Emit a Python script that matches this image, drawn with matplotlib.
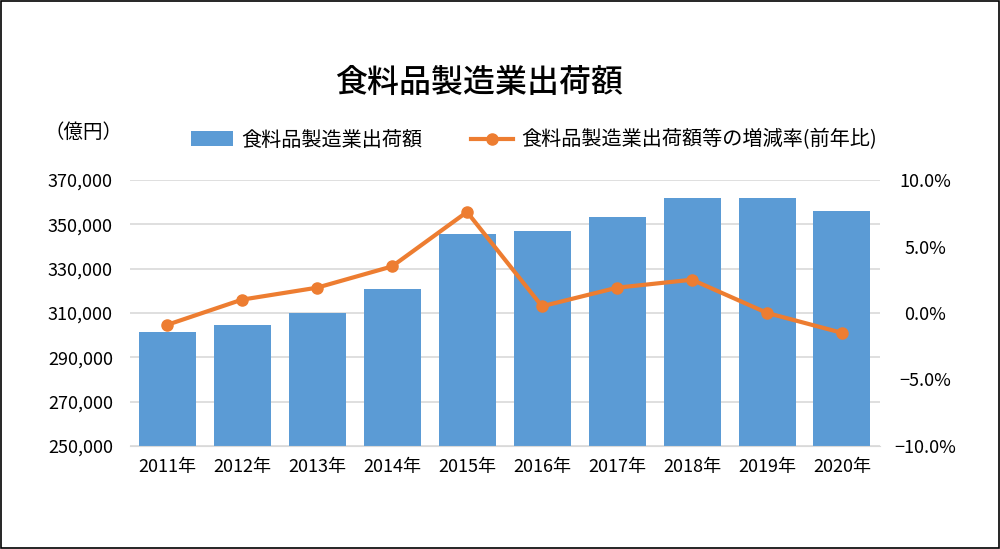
import matplotlib
matplotlib.use('Agg')
import matplotlib.pyplot as plt
from matplotlib.ticker import FuncFormatter
from matplotlib.patches import Rectangle
import numpy as np

plt.rcParams['font.family'] = ['Noto Sans CJK JP', 'DejaVu Sans']

years = ['2011年', '2012年', '2013年', '2014年', '2015年',
         '2016年', '2017年', '2018年', '2019年', '2020年']
shipments = [301500, 304600, 310100, 320900, 345500,
             346800, 353200, 362000, 361700, 356100]
growth = [-0.9, 1.0, 1.9, 3.5, 7.6, 0.5, 1.9, 2.5, 0.0, -1.5]

bar_label = '食料品製造業出荷額'
line_label = '食料品製造業出荷額等の増減率(前年比)'

fig = plt.figure(figsize=(10, 5.49), dpi=100)
ax = fig.add_axes([0.1295, 0.188, 0.75, 0.484])
x = np.arange(len(years))

bars = ax.bar(x, shipments, width=0.76, color='#5b9bd5', zorder=2, label=bar_label)
ax.set_ylim(250000, 370000)
ax.set_yticks(np.arange(250000, 370001, 20000))
ax.yaxis.set_major_formatter(FuncFormatter(lambda v, p: f'{int(v):,}'))
ax.set_xlim(-0.5, len(years) - 0.5)
ax.set_xticks(x)
ax.set_xticklabels(years)
ax.grid(axis='y', color='#d9d9d9', linewidth=1.2, zorder=0)
for s in ax.spines.values():
    s.set_visible(False)
ax.spines['bottom'].set_visible(True)
ax.spines['bottom'].set_color('#d9d9d9')
ax.tick_params(length=0, labelsize=13, pad=9)
ax.tick_params(axis='y', pad=12)

ax2 = ax.twinx()
ln, = ax2.plot(x, growth, color='#ed7d31', linewidth=3, marker='o',
               markersize=8, zorder=3, label=line_label)
ax2.set_ylim(-10, 10)
ax2.set_yticks([-10, -5, 0, 5, 10])
ax2.yaxis.set_major_formatter(FuncFormatter(lambda v, p: f'{v:.1f}%'.replace('-', '−')))
for s in ax2.spines.values():
    s.set_visible(False)
ax2.tick_params(length=0, labelsize=13, pad=33)
for t in ax2.get_yticklabels():
    t.set_horizontalalignment('center')

fig.text(0.479, 0.849, '食料品製造業出荷額', fontsize=23, fontweight='medium',
         ha='center', va='center')
fig.text(0.044, 0.759, '（億円）', fontsize=14, ha='left', va='center')

fig.legend(handles=[bars, ln], loc='center', bbox_to_anchor=(0.534, 0.745),
           ncol=2, frameon=False, fontsize=14.5, handlelength=2.1,
           columnspacing=2.4, handletextpad=0.4)

fig.patches.append(Rectangle((0.001, 0.002), 0.998, 0.996, transform=fig.transFigure,
                             fill=False, edgecolor='black', linewidth=1.2))

fig.savefig('out.png', dpi=100)
